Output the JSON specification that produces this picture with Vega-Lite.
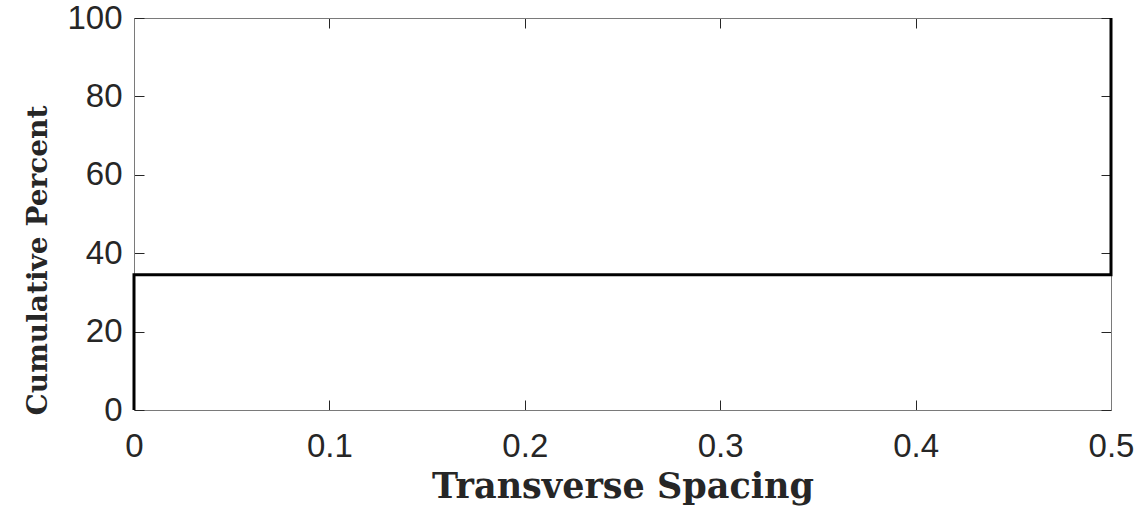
{
  "$schema": "https://vega.github.io/schema/vega-lite/v6.json",
  "autosize": "none",
  "width": 977,
  "height": 392,
  "padding": {"left": 134, "top": 18, "right": 29, "bottom": 100},
  "background": "white",
  "config": {
    "view": {"stroke": null},
    "axis": {
      "grid": false,
      "domainColor": "#7a7a7a",
      "domainWidth": 1,
      "tickColor": "#262626",
      "tickWidth": 1,
      "tickSize": -10,
      "labelFont": "Liberation Sans",
      "labelFontSize": 33,
      "labelColor": "#262626",
      "titleFont": "DejaVu Serif",
      "titleFontWeight": "bold",
      "titleColor": "#262626"
    }
  },
  "data": {
    "values": [
      {"order": 1, "spacing": 0, "percent": 0},
      {"order": 2, "spacing": 0, "percent": 34.5},
      {"order": 3, "spacing": 0.5, "percent": 34.5},
      {"order": 4, "spacing": 0.5, "percent": 100}
    ]
  },
  "layer": [
    {
      "mark": {"type": "line", "color": "black", "opacity": 0},
      "encoding": {
        "x": {"field": "spacing", "type": "quantitative", "scale": {"domain": [0, 0.5], "nice": false},
          "axis": {"orient": "top", "labels": false, "title": null, "values": [0, 0.1, 0.2, 0.3, 0.4, 0.5]}},
        "y": {"field": "percent", "type": "quantitative", "scale": {"domain": [0, 100], "nice": false},
          "axis": {"orient": "right", "labels": false, "title": null, "values": [0, 20, 40, 60, 80, 100]}},
        "order": {"field": "order"}
      }
    },
    {
      "mark": {"type": "line", "color": "black", "strokeWidth": 3, "clip": false},
      "encoding": {
        "x": {"field": "spacing", "type": "quantitative", "scale": {"domain": [0, 0.5], "nice": false},
          "axis": {"orient": "bottom", "title": "Transverse Spacing", "values": [0, 0.1, 0.2, 0.3, 0.4, 0.5],
            "format": "~g", "labelBaseline": "alphabetic", "labelPadding": 56, "labelFlush": false,
            "titleFontSize": 35, "titleBaseline": "alphabetic", "titleY": 87, "titleX": 488.5, "titleAnchor": "middle"}},
        "y": {"field": "percent", "type": "quantitative", "scale": {"domain": [0, 100], "nice": false},
          "axis": {"orient": "left", "title": "Cumulative Percent", "values": [0, 20, 40, 60, 80, 100],
            "labelPadding": 22, "labelFlush": false,
            "titleFontSize": 28, "titleBaseline": "alphabetic", "titleX": -88, "titleY": 242, "titleAnchor": "middle"}},
        "order": {"field": "order"}
      }
    }
  ],
  "resolve": {"axis": {"x": "independent", "y": "independent"}}
}
